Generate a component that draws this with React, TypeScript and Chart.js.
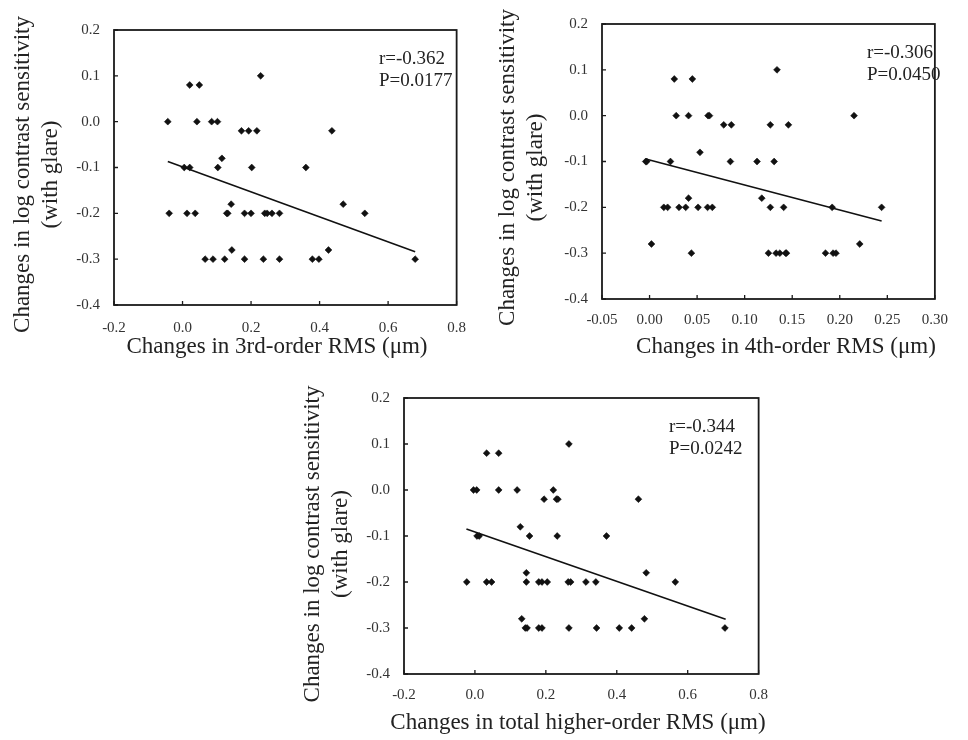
import React, { useEffect, useRef } from "react";
import { Chart, registerables } from "chart.js";

Chart.register(...registerables);

const FONT = '"Liberation Serif", "Times New Roman", serif';

// ---------- Panel A: 3rd-order RMS ----------
const x3rd = [
  0.228,
  0.021, 0.049,
  -0.043, 0.042, 0.085, 0.102,
  0.172, 0.193, 0.217, 0.436,
  0.115,
  0.005, 0.021, 0.103, 0.202, 0.36,
  0.142, 0.469,
  -0.039, 0.013, 0.037, 0.129, 0.132, 0.181, 0.2, 0.24, 0.247, 0.261, 0.283, 0.532,
  0.144, 0.426,
  0.066, 0.089, 0.123, 0.181, 0.236, 0.283, 0.379, 0.398, 0.679,
];
const y3rd = [
  0.1,
  0.08, 0.08,
  0.0, 0.0, 0.0, 0.0,
  -0.02, -0.02, -0.02, -0.02,
  -0.08,
  -0.1, -0.1, -0.1, -0.1, -0.1,
  -0.18, -0.18,
  -0.2, -0.2, -0.2, -0.2, -0.2, -0.2, -0.2, -0.2, -0.2, -0.2, -0.2, -0.2,
  -0.28, -0.28,
  -0.3, -0.3, -0.3, -0.3, -0.3, -0.3, -0.3, -0.3, -0.3,
];
const trend3rdX = [-0.043, 0.679];
const trend3rdY = [-0.087, -0.284];
const stats3rd = ["r=-0.362", "P=0.0177"];

// ---------- Panel B: 4th-order RMS ----------
const x4th = [
  0.134,
  0.026, 0.045,
  0.028, 0.041, 0.0615, 0.063, 0.215,
  0.078, 0.086, 0.127, 0.146,
  0.053,
  -0.004, -0.003, 0.022, 0.085, 0.113, 0.131,
  0.041, 0.118,
  0.015, 0.019, 0.031, 0.038, 0.051, 0.061, 0.066, 0.127, 0.141, 0.192, 0.244,
  0.002, 0.221,
  0.044, 0.125, 0.133, 0.137, 0.143, 0.144, 0.185, 0.193, 0.196,
];
const y4th = [
  0.1,
  0.08, 0.08,
  0.0, 0.0, 0.0, 0.0, 0.0,
  -0.02, -0.02, -0.02, -0.02,
  -0.08,
  -0.1, -0.1, -0.1, -0.1, -0.1, -0.1,
  -0.18, -0.18,
  -0.2, -0.2, -0.2, -0.2, -0.2, -0.2, -0.2, -0.2, -0.2, -0.2, -0.2,
  -0.28, -0.28,
  -0.3, -0.3, -0.3, -0.3, -0.3, -0.3, -0.3, -0.3, -0.3,
];
const trend4thX = [-0.003, 0.244];
const trend4thY = [-0.095, -0.23];
const stats4th = ["r=-0.306", "P=0.0450"];

// ---------- Panel C: total higher-order RMS ----------
const xTotal = [
  0.265,
  0.033, 0.067,
  -0.004, 0.005, 0.067, 0.119, 0.221,
  0.195, 0.23, 0.234, 0.461,
  0.128,
  0.006, 0.012, 0.154, 0.232, 0.371,
  0.145, 0.483,
  -0.023, 0.033, 0.047, 0.145, 0.18, 0.189, 0.204, 0.263, 0.27, 0.313, 0.341, 0.565,
  0.132, 0.478,
  0.142, 0.147, 0.18, 0.189, 0.265, 0.343, 0.407, 0.442, 0.705,
];
const yTotal = [
  0.1,
  0.08, 0.08,
  0.0, 0.0, 0.0, 0.0, 0.0,
  -0.02, -0.02, -0.02, -0.02,
  -0.08,
  -0.1, -0.1, -0.1, -0.1, -0.1,
  -0.18, -0.18,
  -0.2, -0.2, -0.2, -0.2, -0.2, -0.2, -0.2, -0.2, -0.2, -0.2, -0.2, -0.2,
  -0.28, -0.28,
  -0.3, -0.3, -0.3, -0.3, -0.3, -0.3, -0.3, -0.3, -0.3,
];
const trendTotalX = [-0.024, 0.707];
const trendTotalY = [-0.085, -0.281];
const statsTotal = ["r=-0.344", "P=0.0242"];

const yTitle = ["Changes in log contrast sensitivity", "(with glare)"];
const yMin = -0.4;
const yMax = 0.2;
const yStep = 0.1;

const framePlugin = {
  id: "frame",
  afterDraw(chart: any, _args: any, opts: any) {
    const { ctx, chartArea } = chart;
    const { left, right, top, bottom } = chartArea;
    ctx.save();
    ctx.strokeStyle = "#1a1a1a";
    ctx.lineWidth = 1.8;
    ctx.strokeRect(left, top, right - left, bottom - top);
    ctx.lineWidth = 1.3;
    const xs = chart.scales.x;
    const ys = chart.scales.y;
    ctx.beginPath();
    xs.ticks.forEach((t: any) => {
      const px = xs.getPixelForValue(t.value);
      ctx.moveTo(px, bottom);
      ctx.lineTo(px, bottom - 4);
    });
    ys.ticks.forEach((t: any) => {
      const py = ys.getPixelForValue(t.value);
      ctx.moveTo(left, py);
      ctx.lineTo(left + 4, py);
    });
    ctx.stroke();

    ctx.fillStyle = "#222";
    ctx.textBaseline = "middle";
    // statistics
    ctx.font = `19px ${FONT}`;
    ctx.textAlign = "left";
    (opts.lines || []).forEach((s: string, i: number) => {
      ctx.fillText(s, left + 265, top + 29 + i * 22);
    });
    // axis titles
    ctx.font = `23px ${FONT}`;
    ctx.textAlign = "center";
    ctx.fillText(opts.xTitle, opts.xTitlePos[0], opts.xTitlePos[1]);
    const cy = (top + bottom) / 2 + opts.yTitleDy;
    (opts.yTitle || []).forEach((s: string, i: number) => {
      ctx.save();
      ctx.translate(opts.yTitleX + i * 28, cy);
      ctx.rotate(-Math.PI / 2);
      ctx.fillText(s, 0, 0);
      ctx.restore();
    });
    ctx.restore();
  },
};

type PanelProps = {
  xs: number[];
  ys: number[];
  tx: number[];
  ty: number[];
  stats: string[];
  xMin: number;
  xMax: number;
  xStep: number;
  xDigits: number;
  xTitle: string;
  pos: { left: number; top: number; width: number; height: number };
  lay: {
    yW: number;
    xH: number;
    padTop: number;
    padRight: number;
    xTickPad: number;
    xTitlePos: number[];
    yTitleX: number;
    yTitleDy: number;
  };
};

function Panel(p: PanelProps) {
  const ref = useRef<HTMLCanvasElement | null>(null);
  useEffect(() => {
    if (!ref.current) return;
    const pts = p.xs.map((x, i) => ({ x, y: p.ys[i] }));
    const line = p.tx.map((x, i) => ({ x, y: p.ty[i] }));
    const fmt = (v: any, d: number) => {
      const n = Number(v);
      return (Math.abs(n) < 1e-9 ? 0 : n).toFixed(d);
    };
    const chart = new Chart(ref.current, {
      type: "scatter",
      data: {
        datasets: [
          {
            data: pts,
            pointStyle: "rectRot",
            pointRadius: 3.4,
            pointBorderWidth: 0.6,
            backgroundColor: "#111",
            borderColor: "#111",
            showLine: false,
          },
          {
            data: line,
            showLine: true,
            borderColor: "#111",
            borderWidth: 1.6,
            pointRadius: 0,
            fill: false,
          },
        ],
      },
      options: {
        responsive: false,
        animation: false,
        events: [],
        layout: { padding: { top: p.lay.padTop, right: p.lay.padRight, left: 0, bottom: 0 } },
        plugins: {
          legend: { display: false },
          tooltip: { enabled: false },
          frame: {
            lines: p.stats,
            xTitle: p.xTitle,
            xTitlePos: p.lay.xTitlePos,
            yTitle: yTitle,
            yTitleX: p.lay.yTitleX,
            yTitleDy: p.lay.yTitleDy,
          },
        } as any,
        scales: {
          x: {
            type: "linear",
            min: p.xMin,
            max: p.xMax,
            afterFit: (s: any) => {
              s.height = p.lay.xH;
            },
            grid: { display: false, drawTicks: false },
            border: { display: false },
            ticks: {
              stepSize: p.xStep,
              autoSkip: false,
              maxRotation: 0,
              padding: p.lay.xTickPad,
              color: "#333",
              font: { family: FONT, size: 15 },
              callback: (v: any) => fmt(v, p.xDigits),
            },
            title: { display: false },
          },
          y: {
            type: "linear",
            min: yMin,
            max: yMax,
            afterFit: (s: any) => {
              s.width = p.lay.yW;
            },
            grid: { display: false, drawTicks: false },
            border: { display: false },
            ticks: {
              stepSize: yStep,
              autoSkip: false,
              padding: 14,
              color: "#333",
              font: { family: FONT, size: 15 },
              callback: (v: any) => fmt(v, 1),
            },
            title: { display: false },
          },
        },
      },
      plugins: [framePlugin],
    } as any);
    return () => chart.destroy();
  }, []);
  return (
    <canvas
      ref={ref}
      width={p.pos.width}
      height={p.pos.height}
      style={{ position: "absolute", left: p.pos.left, top: p.pos.top, width: p.pos.width, height: p.pos.height, display: "block" }}
    />
  );
}

export default function App() {
  return (
    <div style={{ position: "fixed", left: 0, top: 0, width: 968, height: 740, background: "#fff", overflow: "hidden" }}>
      <Panel
        xs={x3rd}
        ys={y3rd}
        tx={trend3rdX}
        ty={trend3rdY}
        stats={stats3rd}
        xMin={-0.2}
        xMax={0.8}
        xStep={0.2}
        xDigits={1}
        xTitle="Changes in 3rd-order RMS (μm)"
        pos={{ left: 0, top: 0, width: 480, height: 370 }}
        lay={{ yW: 114, xH: 65, padTop: 30, padRight: 11, xTickPad: 14, xTitlePos: [277, 347], yTitleX: 23, yTitleDy: 7 }}
      />
      <Panel
        xs={x4th}
        ys={y4th}
        tx={trend4thX}
        ty={trend4thY}
        stats={stats4th}
        xMin={-0.05}
        xMax={0.3}
        xStep={0.05}
        xDigits={2}
        xTitle="Changes in 4th-order RMS (μm)"
        pos={{ left: 490, top: 0, width: 470, height: 370 }}
        lay={{ yW: 112, xH: 71, padTop: 24, padRight: 9, xTickPad: 12, xTitlePos: [296, 347], yTitleX: 18, yTitleDy: 6 }}
      />
      <Panel
        xs={xTotal}
        ys={yTotal}
        tx={trendTotalX}
        ty={trendTotalY}
        stats={statsTotal}
        xMin={-0.2}
        xMax={0.8}
        xStep={0.2}
        xDigits={1}
        xTitle="Changes in total higher-order RMS (μm)"
        pos={{ left: 290, top: 375, width: 490, height: 365 }}
        lay={{ yW: 114, xH: 66, padTop: 23, padRight: 20, xTickPad: 12, xTitlePos: [288, 348], yTitleX: 23, yTitleDy: 8 }}
      />
    </div>
  );
}
